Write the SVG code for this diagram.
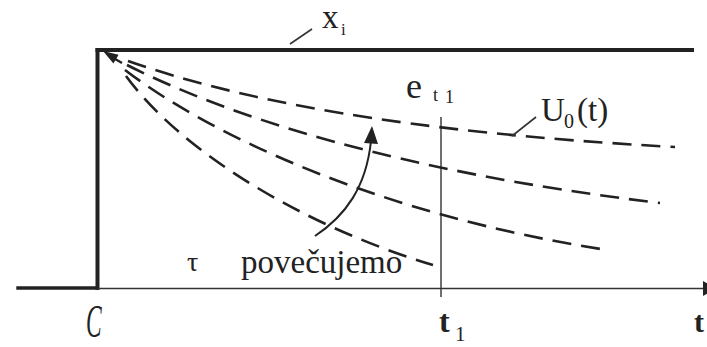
<svg xmlns="http://www.w3.org/2000/svg" width="707" height="347" viewBox="0 0 707 347">
<style>
.thick{stroke:#222;stroke-width:4;fill:none;stroke-linecap:square}
.thin{stroke:#333;stroke-width:1.6;fill:none}
.dash{stroke:#222;stroke-width:2.6;fill:none;stroke-dasharray:19 10}
.lbl{font-family:'Liberation Serif','Times New Roman',serif;fill:#222}
.lead{stroke:#333;stroke-width:1.6;fill:none}
</style>
<rect width="707" height="347" fill="#fff"/>
<g id="axes">
<line class="thick" x1="18" y1="288" x2="97" y2="288" style="stroke-width:3.4"/>
<line class="thick" x1="97.5" y1="288" x2="97.5" y2="50"/>
<line class="thick" x1="97.5" y1="50" x2="692" y2="50"/>
<line class="thin" x1="97" y1="288.5" x2="704" y2="288.5"/>
<polygon points="703,281 716,288.5 703,296" fill="#222"/>
<line class="thin" x1="441" y1="117" x2="441" y2="297" style="stroke-width:1.4"/>
</g>
<g id="connectors">
<path class="dash" d="M128,61 C240,100 400,132 675,147"/>
<path class="dash" d="M127,65 C230,117 400,172 660,203"/>
<path class="dash" d="M125,70 C210,135 380,215 607,250"/>
<path class="dash" d="M126,76 C180,150 300,225 433,265"/>
<g id="corner-arrow">
<line x1="110" y1="56" x2="122" y2="63" stroke="#222" stroke-width="2.4"/>
<polygon points="103,51 118.6,54.8 113.4,63.4" fill="#222"/>
</g>
<g id="tau-arrow">
<path d="M315,236 C345,216 366,188 371,141" stroke="#222" stroke-width="2" fill="none"/>
<polygon points="372,126 378,144 364,143" fill="#222"/>
</g>
<line class="lead" x1="290" y1="44" x2="312" y2="29"/>
<line class="lead" x1="512" y1="136" x2="536" y2="117"/>
</g>
<g id="labels" font-family="Liberation Serif, Times New Roman, serif" fill="#222">
<g id="label-xi"><text class="lbl" x="322" y="28" font-size="33">x</text><text class="lbl" x="341" y="35" font-size="17">i</text></g>
<g id="label-et1"><text class="lbl" x="406" y="98" font-size="36">e</text><text class="lbl" x="433" y="101" font-size="18">t</text><text class="lbl" x="445" y="103" font-size="18">1</text></g>
<g id="label-u0"><text class="lbl" x="541" y="121" font-size="33">U</text><text class="lbl" x="564" y="128" font-size="20">0</text><text class="lbl" x="577" y="121" font-size="33">(t)</text></g>
<g id="label-tau"><text class="lbl" x="187" y="271" font-size="28">τ</text><text class="lbl" x="241" y="273" font-size="33">povečujemo</text></g>
<g id="label-origin"><text class="lbl" x="0" y="0" font-size="30" font-style="italic" transform="translate(86,337) scale(0.78,1.55)">C</text></g>
<g id="label-t1"><text class="lbl" x="439" y="332" font-size="32" font-weight="bold">t</text><text class="lbl" x="455" y="341" font-size="21">1</text></g>
<g id="label-t"><text class="lbl" x="694" y="332" font-size="30" font-weight="bold">t</text></g>
</g>
</svg>
